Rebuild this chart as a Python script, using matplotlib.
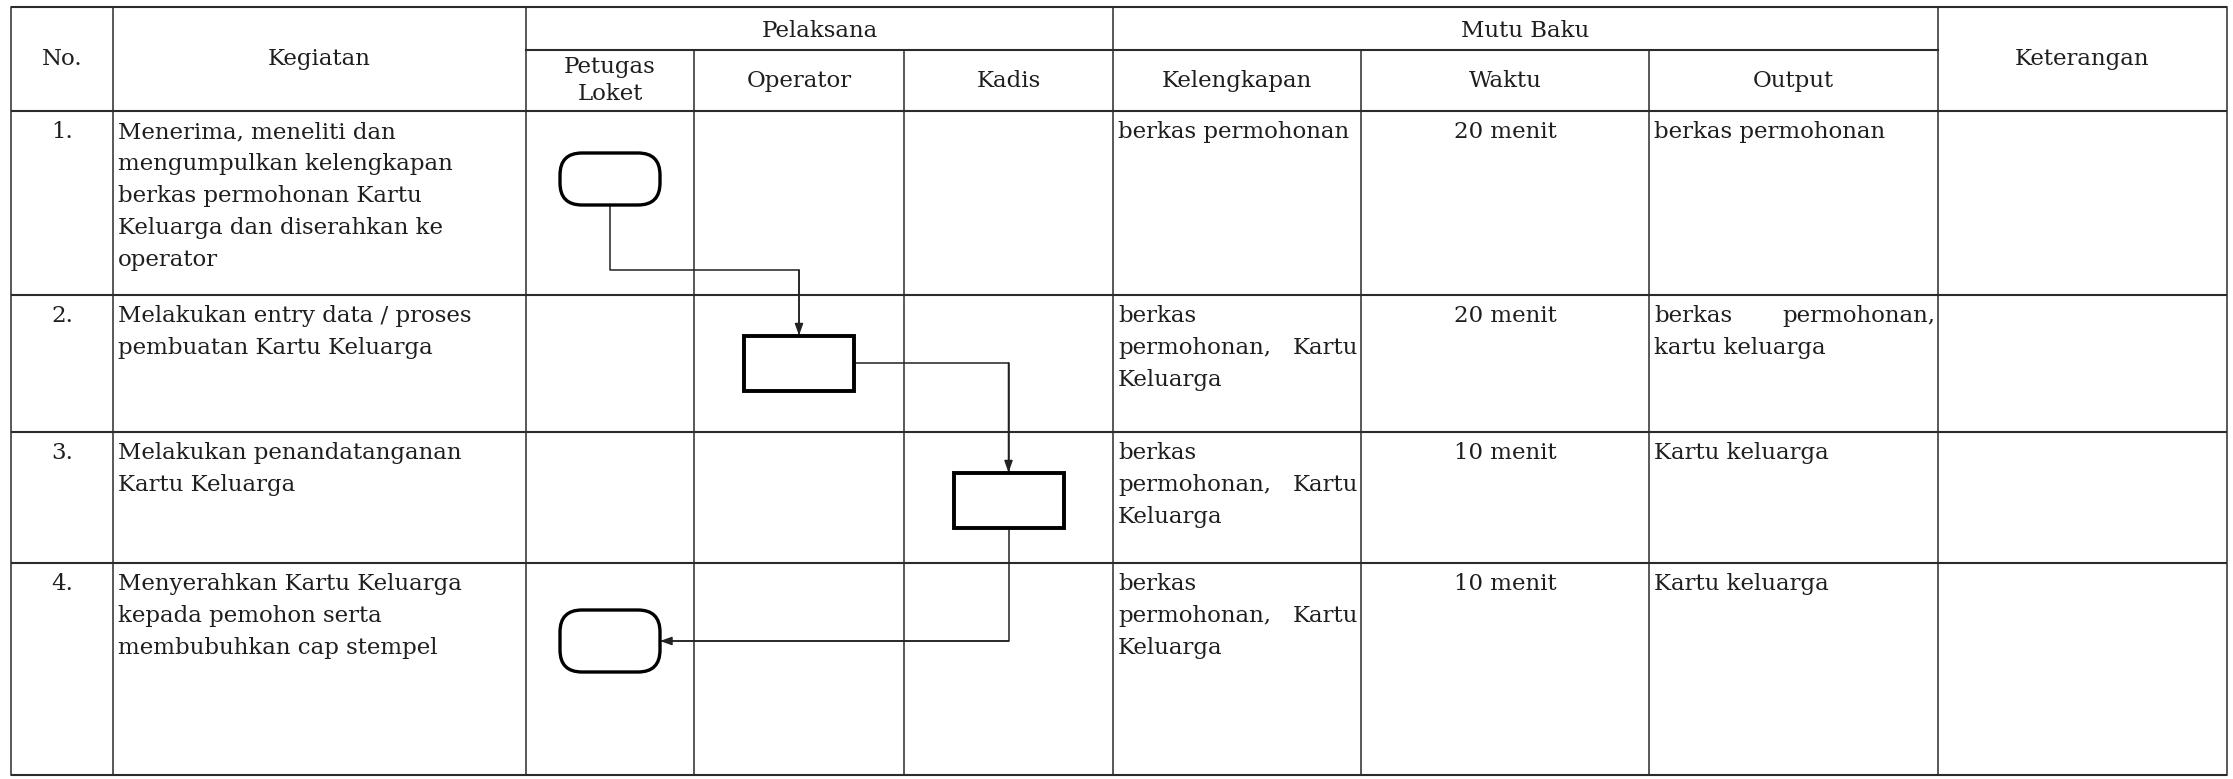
import matplotlib
matplotlib.use("Agg")
import matplotlib.pyplot as plt
from matplotlib.patches import FancyBboxPatch, Rectangle

# ---------------- data ----------------
row_no = ["1.", "2.", "3.", "4."]
kegiatan = [
    ["Menerima, meneliti dan", "mengumpulkan kelengkapan", "berkas permohonan Kartu",
     "Keluarga dan diserahkan ke", "operator"],
    ["Melakukan entry data / proses", "pembuatan Kartu Keluarga"],
    ["Melakukan penandatanganan", "Kartu Keluarga"],
    ["Menyerahkan Kartu Keluarga", "kepada pemohon serta", "membubuhkan cap stempel"],
]
pelaksana = ["Petugas\nLoket", "Operator", "Kadis"]
mutu_baku = ["Kelengkapan", "Waktu", "Output"]
kelengkapan = [
    ["berkas permohonan"],
    ["berkas", "permohonan, Kartu", "Keluarga"],
    ["berkas", "permohonan, Kartu", "Keluarga"],
    ["berkas", "permohonan, Kartu", "Keluarga"],
]
waktu = ["20 menit", "20 menit", "10 menit", "10 menit"]
output = [
    ["berkas permohonan"],
    ["berkas permohonan,", "kartu keluarga"],
    ["Kartu keluarga"],
    ["Kartu keluarga"],
]
keterangan = ["", "", "", ""]
actor = [0, 1, 2, 0]                      # index into pelaksana lanes
shape_kind = ["terminator", "process", "process", "terminator"]

# ---------------- layout ----------------
W, H = 2233, 779
fig = plt.figure(figsize=(W / 100, H / 100), dpi=100)
ax = fig.add_axes([0, 0, 1, 1])
ax.set_xlim(0, W)
ax.set_ylim(H, 0)
ax.axis("off")

FONT = "DejaVu Serif"
FS = 16.5
TXT = "#1e1e1e"
LINE = "#2b2b2b"
LS = 32  # px between baselines

cols = [11, 113, 526, 694, 904, 1113, 1361, 1649, 1938, 2227]
y_top, y_sub, y_head = 7, 50, 111
row_edges = [111, 295, 432, 563, 775]

# table grid
for y in [y_top, y_head] + row_edges[1:]:
    ax.plot([cols[0], cols[-1]], [y, y], color=LINE, lw=1.5, solid_capstyle="butt")
ax.plot([cols[2], cols[8]], [y_sub, y_sub], color=LINE, lw=1.5)
for i, x in enumerate(cols):
    top = y_sub if i in (3, 4, 6, 7) else y_top
    ax.plot([x, x], [top, row_edges[-1]], color=LINE, lw=1.1)

def ctext(x, y, s, **kw):
    ax.text(x, y, s, ha="center", va="center", fontsize=FS, family=FONT,
            color=TXT, linespacing=1.35, **kw)

hc = (y_top + y_head) / 2
sc = (y_sub + y_head) / 2
ctext((cols[0] + cols[1]) / 2, hc, "No.")
ctext((cols[1] + cols[2]) / 2, hc, "Kegiatan")
ctext((cols[2] + cols[5]) / 2, (y_top + y_sub) / 2 + 2, "Pelaksana")
ctext((cols[5] + cols[8]) / 2, (y_top + y_sub) / 2 + 2, "Mutu Baku")
ctext((cols[8] + cols[9]) / 2, hc, "Keterangan")
for j, s in enumerate(pelaksana):
    ctext((cols[2 + j] + cols[3 + j]) / 2, sc, s)
for j, s in enumerate(mutu_baku):
    ctext((cols[5 + j] + cols[6 + j]) / 2, sc, s)

renderer = fig.canvas.get_renderer()

def text_width(s):
    t = ax.text(0, 0, s, fontsize=FS, family=FONT)
    bb = t.get_window_extent(renderer=renderer)
    t.remove()
    return bb.width

def para(lines, x0, x1, yb, justify=False):
    for k, ln in enumerate(lines):
        y = yb + k * LS
        words = ln.split()
        if justify and k < len(lines) - 1 and len(words) > 1:
            widths = [text_width(w) for w in words]
            gap = ((x1 - x0) - sum(widths)) / (len(words) - 1)
            x = x0
            for w, wd in zip(words, widths):
                ax.text(x, y, w, ha="left", va="baseline", fontsize=FS,
                        family=FONT, color=TXT)
                x += wd + gap
        else:
            ax.text(x0, y, ln, ha="left", va="baseline", fontsize=FS,
                    family=FONT, color=TXT)

PAD = 5
for r in range(len(row_no)):
    yb = row_edges[r] + 27
    ax.text((cols[0] + cols[1]) / 2, yb, row_no[r], ha="center", va="baseline",
            fontsize=FS, family=FONT, color=TXT)
    para(kegiatan[r], cols[1] + PAD, cols[2] - 3, yb)
    para(kelengkapan[r], cols[5] + PAD, cols[6] - 3, yb, justify=True)
    ax.text((cols[6] + cols[7]) / 2, yb, waktu[r], ha="center", va="baseline",
            fontsize=FS, family=FONT, color=TXT)
    para(output[r], cols[7] + PAD, cols[8] - 3, yb, justify=True)
    para([keterangan[r]], cols[8] + PAD, cols[9] - 3, yb)

# ---------------- flowchart shapes ----------------
lane_cx = [(cols[2 + a] + cols[3 + a]) / 2 for a in range(len(pelaksana))]
sizes = {"terminator": (100, 52), "process": (110, 55)}
centers = []
for r, (a, kind) in enumerate(zip(actor, shape_kind)):
    cx = lane_cx[a]
    w, h = sizes[kind]
    cy = row_edges[r] + 68 + (10 if r == len(actor) - 1 else 0)
    if r == len(actor) - 1:
        h = 62
    centers.append((cx, cy, w, h))
    if kind == "terminator":
        p = FancyBboxPatch((cx - w / 2, cy - h / 2), w, h,
                           boxstyle="round,pad=0,rounding_size=22",
                           fc="white", ec="black", lw=2.4, zorder=3)
    else:
        p = Rectangle((cx - w / 2, cy - h / 2), w, h, fc="white", ec="black",
                      lw=2.8, zorder=3)
    ax.add_patch(p)

def arrow_path(pts):
    xs = [p[0] for p in pts]
    ys = [p[1] for p in pts]
    ax.plot(xs[:-1] + [xs[-1]], ys, color="#222222", lw=1.1, zorder=2)
    ax.annotate("", xy=pts[-1], xytext=pts[-2],
                arrowprops=dict(arrowstyle="-|>,head_length=0.7,head_width=0.25",
                                color="#222222", lw=1.1, shrinkA=0, shrinkB=0),
                zorder=4)

for r in range(len(actor) - 1):
    x0, y0, w0, h0 = centers[r]
    x1, y1, w1, h1 = centers[r + 1]
    if x1 > x0 and r == 0:
        elbow = row_edges[r + 1] - 25
        arrow_path([(x0, y0 + h0 / 2), (x0, elbow), (x1, elbow), (x1, y1 - h1 / 2)])
    elif x1 > x0:
        arrow_path([(x0 + w0 / 2, y0), (x1, y0), (x1, y1 - h1 / 2)])
    else:
        arrow_path([(x0, y0 + h0 / 2), (x0, y1), (x1 + w1 / 2, y1)])

fig.savefig("out.png", dpi=100, facecolor="white")
